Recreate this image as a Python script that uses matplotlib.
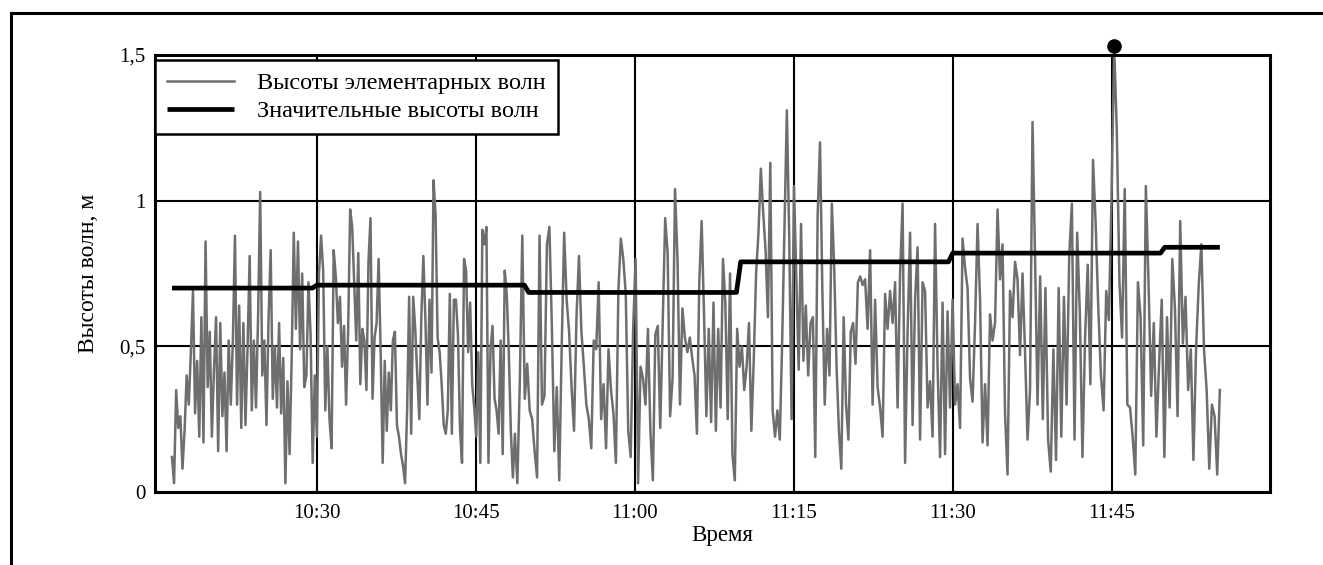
import matplotlib
matplotlib.use("Agg")
import matplotlib.pyplot as plt
import matplotlib.dates as mdates
from matplotlib.lines import Line2D
import numpy as np
from datetime import datetime, timedelta

plt.rcParams['font.family'] = ['Liberation Serif', 'DejaVu Serif']

BASE = datetime(2000, 1, 1, 10, 0)

# Individual wave heights (m), recorded in consecutive pieces.
# Each piece: (start minute after 10:00, end minute after 10:00)
seg1_span = (16.35, 32.2)
seg1 = [0.12, 0.03, 0.35, 0.22, 0.26, 0.08, 0.21, 0.40, 0.30, 0.48, 0.69, 0.27, 0.45, 0.19,
        0.60, 0.17, 0.86, 0.36, 0.55, 0.19, 0.42, 0.60, 0.14, 0.58, 0.26, 0.41, 0.14, 0.52,
        0.30, 0.52, 0.88, 0.30, 0.64, 0.22, 0.58, 0.23, 0.50, 0.81, 0.28, 0.52, 0.29, 0.60,
        1.03, 0.40, 0.52, 0.23, 0.60, 0.83, 0.32, 0.50, 0.29, 0.58, 0.27, 0.46, 0.03, 0.38,
        0.13, 0.46, 0.89, 0.56, 0.86, 0.49, 0.75, 0.36, 0.40, 0.72, 0.54, 0.10, 0.40, 0.19,
        0.75, 0.88, 0.76, 0.28, 0.50, 0.25, 0.15, 0.83, 0.74, 0.58]

seg2_span = (32.2, 48.7)
seg2 = [0.67, 0.43, 0.57, 0.30, 0.55, 0.97, 0.91, 0.72, 0.52, 0.82, 0.37, 0.56, 0.52, 0.35,
        0.79, 0.94, 0.32, 0.53, 0.58, 0.80, 0.48, 0.10, 0.45, 0.21, 0.41, 0.28, 0.52, 0.55,
        0.23, 0.19, 0.13, 0.09, 0.03, 0.28, 0.67, 0.20, 0.67, 0.56, 0.40, 0.25, 0.60, 0.81,
        0.59, 0.30, 0.66, 0.41, 1.07, 0.95, 0.53, 0.48, 0.37, 0.23, 0.20, 0.28, 0.68, 0.20,
        0.66, 0.66, 0.54, 0.22, 0.10, 0.80, 0.76, 0.48, 0.65, 0.37, 0.29, 0.19, 0.48, 0.10,
        0.90, 0.85, 0.91, 0.10, 0.49, 0.57, 0.32, 0.28, 0.20, 0.52, 0.13, 0.76, 0.68, 0.48,
        0.21, 0.05]

seg3_span = (48.7, 65.2)
seg3 = [0.20, 0.03, 0.38, 0.88, 0.32, 0.44, 0.28, 0.25, 0.14, 0.05, 0.88, 0.30, 0.33, 0.85,
        0.91, 0.57, 0.14, 0.36, 0.04, 0.50, 0.89, 0.66, 0.55, 0.36, 0.21, 0.60, 0.81, 0.55,
        0.43, 0.30, 0.25, 0.15, 0.52, 0.49, 0.72, 0.25, 0.37, 0.15, 0.49, 0.35, 0.27, 0.10,
        0.69, 0.87, 0.80, 0.68, 0.21, 0.12, 0.56, 0.80, 0.03, 0.43, 0.39, 0.30, 0.56, 0.21,
        0.04, 0.54, 0.57, 0.22, 0.58, 0.94, 0.82, 0.26, 0.39, 1.04, 0.80, 0.30, 0.63, 0.53,
        0.48]

seg4_span = (65.2, 81.5)
seg4 = [0.53, 0.46, 0.40, 0.20, 0.72, 0.93, 0.61, 0.26, 0.56, 0.24, 0.65, 0.21, 0.56, 0.29,
        0.80, 0.65, 0.25, 0.75, 0.13, 0.04, 0.56, 0.43, 0.50, 0.35, 0.43, 0.58, 0.21, 0.45,
        0.75, 0.89, 1.11, 0.96, 0.83, 0.60, 1.13, 0.28, 0.19, 0.28, 0.18, 0.51, 0.91, 1.31,
        0.87, 0.25, 1.05, 0.74, 0.42, 0.92, 0.45, 0.64, 0.40, 0.58, 0.60, 0.12, 0.95, 1.20,
        0.69, 0.30, 0.56, 0.40, 0.99, 0.77, 0.43, 0.21, 0.08, 0.60, 0.30, 0.18, 0.55, 0.58,
        0.44, 0.72, 0.74]

seg5_span = (81.5, 98.0)
seg5 = [0.71, 0.73, 0.56, 0.83, 0.30, 0.66, 0.36, 0.29, 0.19, 0.68, 0.56, 0.69, 0.58, 0.72,
        0.29, 0.75, 0.99, 0.10, 0.55, 0.89, 0.23, 0.66, 0.84, 0.18, 0.72, 0.69, 0.29, 0.38,
        0.19, 0.92, 0.43, 0.12, 0.65, 0.13, 0.62, 0.29, 0.66, 0.30, 0.37, 0.22, 0.87, 0.77,
        0.70, 0.39, 0.31, 0.58, 0.92, 0.66, 0.17, 0.37, 0.16, 0.61, 0.52, 0.58, 0.97, 0.73,
        0.85, 0.27, 0.06, 0.69, 0.60, 0.79, 0.73, 0.47, 0.75, 0.48, 0.18, 0.35, 1.27, 0.81]

seg6_span = (98.0, 115.2)
seg6 = [0.30, 0.74, 0.25, 0.70, 0.18, 0.07, 0.49, 0.11, 0.70, 0.19, 0.67, 0.30, 0.81, 0.99,
        0.18, 0.89, 0.62, 0.12, 0.53, 0.78, 0.37, 1.14, 0.92, 0.63, 0.40, 0.28, 0.69, 0.59,
        1.01, 1.53, 1.24, 0.72, 0.53, 1.04, 0.30, 0.29, 0.19, 0.06, 0.72, 0.60, 0.16, 1.05,
        0.72, 0.33, 0.58, 0.19, 0.44, 0.66, 0.12, 0.60, 0.29, 0.80, 0.63, 0.26, 0.93, 0.51,
        0.67, 0.35, 0.49, 0.11, 0.49, 0.71, 0.85, 0.49, 0.35, 0.08, 0.30, 0.26, 0.06, 0.35]

# Significant wave height per 20-minute block (minute edges after 10:00)
hs_edges = [16.35, 30.0, 50.0, 70.0, 90.0, 110.0, 115.2]
hs_values = [0.70, 0.71, 0.685, 0.79, 0.82, 0.84]

tick_minutes = [30, 45, 60, 75, 90, 105]
y_ticks = [0, 0.5, 1.0, 1.5]
y_tick_labels = ["0", "0,5", "1", "1,5"]


def to_time(minutes):
    return BASE + timedelta(minutes=float(minutes))


# assemble the wave series
pieces = [(seg1_span, seg1), (seg2_span, seg2), (seg3_span, seg3),
          (seg4_span, seg4), (seg5_span, seg5), (seg6_span, seg6)]
wave_min, wave_h = [], []
for k, (span, vals) in enumerate(pieces):
    last = k == len(pieces) - 1
    mins = np.linspace(span[0], span[1], len(vals), endpoint=last)
    wave_min.extend(mins)
    wave_h.extend(vals)
wave_t = [to_time(m) for m in wave_min]

# significant height: flat blocks joined by short ramps
ramp = 0.4
hs_min, hs_h = [], []
for i, v in enumerate(hs_values):
    hs_min.append(hs_edges[i])
    hs_h.append(v)
    end = hs_edges[i + 1]
    hs_min.append(end - ramp if i < len(hs_values) - 1 else end)
    hs_h.append(v)
hs_t = [to_time(m) for m in hs_min]

W, H = 1323, 565
fig = plt.figure(figsize=(W / 100, H / 100), dpi=100)
ax = fig.add_axes([155 / W, 73 / H, 1115 / W, 437 / H])

ax.plot(wave_t, wave_h, color='#6e6e6e', lw=1.8, label='Высоты элементарных волн', zorder=3)
ax.plot(hs_t, hs_h, color='black', lw=3.4, label='Значительные высоты волн', zorder=4,
        solid_capstyle='butt')

# mark the largest wave
imax = int(np.argmax(wave_h))
ax.plot([wave_t[imax]], [wave_h[imax]], 'o', color='black', ms=9.5, clip_on=False, zorder=6)

ax.set_xlim(to_time(14.75), to_time(59.93 + 60))
ax.set_ylim(0, 1.5)
ax.set_xticks([to_time(m) for m in tick_minutes])
ax.xaxis.set_major_formatter(mdates.DateFormatter('%H:%M'))
ax.set_yticks(y_ticks)
ax.set_yticklabels(y_tick_labels)
ax.tick_params(length=0, labelsize=15, colors='black')
ax.tick_params(axis='x', pad=9)
ax.tick_params(axis='y', pad=7)
ax.grid(True, color='black', lw=1.5, zorder=1)
ax.set_axisbelow(True)
for s in ax.spines.values():
    s.set_linewidth(2.2)
    s.set_zorder(5)

ax.set_xlabel('Время', fontsize=16.5, labelpad=1)
ax.xaxis.set_label_coords((722 - 155) / 1115, -(535 - 492) / 437)
ax.xaxis.label.set_va('center')
ax.set_ylabel('Высоты волн, м', fontsize=17)
ax.yaxis.set_label_coords(-(155 - 88) / 1115, 0.5)
ax.yaxis.label.set_va('center')

leg = ax.legend(loc='upper left', bbox_to_anchor=(0, 1 - 5 / 437), fontsize=17.5,
                frameon=True, fancybox=False, edgecolor='black', framealpha=1,
                borderaxespad=0, handlelength=2.75, handletextpad=0.95,
                borderpad=0.5, labelspacing=0.25)
leg.get_frame().set_linewidth(1.8)
leg.set_zorder(7)

# outer frame (top and left edges)
fig.add_artist(Line2D([11 / W, 1.0], [1 - 13 / H, 1 - 13 / H], color='black', lw=2.2,
                      transform=fig.transFigure))
fig.add_artist(Line2D([11 / W, 11 / W], [0, 1 - 13 / H], color='black', lw=2.2,
                      transform=fig.transFigure))

fig.savefig('out.png', dpi=100)
